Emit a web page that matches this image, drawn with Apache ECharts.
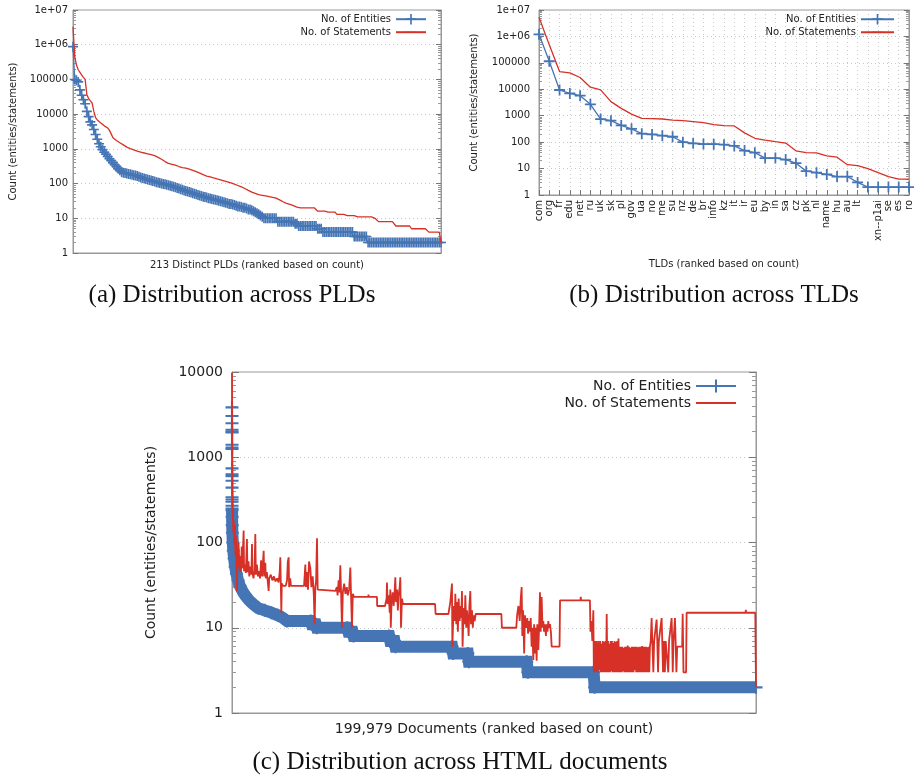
<!DOCTYPE html>
<html><head><meta charset="utf-8">
<script src="https://cdn.jsdelivr.net/npm/echarts/dist/echarts.min.js"></script>
<style>html,body{margin:0;padding:0;background:#fff}#c{width:914px;height:777px}</style>
</head><body><div id="c"></div>
<script>
// ---------- (a) PLDs: 213 ranked PLDs ----------
const pldEntities = [
 880000,100000,95000,85000,50000,35000,26000,20000,12000,8500,
 6000,4900,3600,2600,1900,1400,1150,950,800,700,
 600,520,460,400,350,310,270,240,215,205,
 200,195,190,185,180,175,170,165,158,150,
 145,140,135,130,126,122,118,114,110,107,
 104,101,98,95,93,90,87,84,81,78,
 75,72,69,66,63,61,59,57,55,53,
 51,49,47,45,44,42,41,40,38,37,
 36,35,34,33,32,31,30,29,28,27,
 26,26,25,24,23,22,22,21,20,20,
 19,18,18,17,16,15,14,13,12,11,
 10,10,10,10,10,10,10,10,
 8,8,8,8,8,8,8,8,8,8,
 7,7,
 6,6,6,6,6,6,6,6,6,6,6,
 5,5,5,
 4,4,4,4,4,4,4,4,4,4,4,4,4,4,4,4,4,4,
 3,3,3,3,3,3,3,3,
 2,2,2,2,2,2,2,2,2,2,2,2,2,2,2,2,2,2,2,2,2,2,2,2,2,2,2,2,2,2,2,2,2,2,2,2,2,2,2,2,2,2,2
];
const pldStatements = [
 3300000,450000,260000,190000,160000,135000,115000,100000,36000,28000,
 24000,21000,12000,8000,6800,6000,5600,5000,4600,4300,
 4000,3400,2700,2100,1900,1750,1600,1500,1400,1300,
 1200,1120,1070,1020,980,940,900,860,830,800,
 780,760,740,720,700,680,660,640,610,570,
 530,500,470,430,400,380,370,360,350,340,
 320,310,300,290,285,280,270,260,250,240,
 230,220,210,200,190,180,172,165,160,155,
 150,145,140,136,132,128,124,120,116,112,
 108,104,100,96,92,88,84,80,76,72,
 68,64,60,57,54,52,50,48,47,46,
 45,44,43,42,41,40,39,38,36,34,
 32,30,28,27,26,25,24,23,22,21,
 20,20,20,20,20,20,20,20,20,20,20,
 16,16,16,16,16,15,15,15,15,15,15,
 13,13,13,13,13,12,12,12,12,12,12,
 11,11,11,11,11,11,11,11,11,11,11,
 10,10,
 8,8,8,8,8,8,8,8,8,8,
 6,6,6,6,6,6,6,6,6,
 5,5,5,5,5,5,5,5,5,5,
 4,4,4,4,4,4,4,
 2
];

// ---------- (b) TLDs ----------
const tldNames = ['com','org','fr','edu','net','ru','uk','sk','pl','gov','ua','no','me','su','nz','de','br','info','kz','it','ir','eu','by','in','sa','cz','pk','nl','name','hu','au','lt','','xn--p1ai','se','es','ro'];
const tldEntities = [1200000,115000,9400,7000,5700,2700,750,650,430,320,210,195,175,160,100,90,85,84,80,72,48,40,25,25,22,16,8,7,6,5,5,3,2,2,2,2,2];
const tldStatements = [5300000,480000,47000,42000,28000,12000,9500,3400,1900,1150,800,780,750,680,650,600,550,460,420,410,225,140,120,105,92,47,40,39,30,27,14,13,10,7,5,4,4];

// ---------- (c) HTML documents: 199,979 ranked documents ----------
const htmlDocCount = 199979;
const htmlEntityPeakRanks = [1,2,3,4,5,6,7,8,9,10,11,12,13,14,15,16,17,18,19];
const htmlEntityPeakValues = [3850,3050,2500,2100,2000,1950,1400,1300,1250,740,630,600,530,440,340,320,300,270,250];
const htmlEntityBand = [
 [20,240],[40,200],[80,160],[150,130],[300,100],[500,80],[800,65],[1200,52],[1700,43],[2300,36],
 [3000,31],[4000,27],[5000,24],[6500,21],[8000,19],[10000,17],[12500,16],[15000,15],[17500,14],[19500,13],
 [21000,12],[30000,12],[30400,11],[32000,11],[32400,10],[44000,10],[44400,9],[46000,9],[46400,8],[60000,8],
 [60400,7],[62000,7],[62400,6],[84000,6],[84400,5],[90000,5],[90400,4],[112500,4],[112900,3],[138000,3],
 [138400,2],[199979,2]
];
const htmlStmtHead = [
 [1,9800],[60,2500],[150,600],[300,220],[500,130],[700,180],[900,95],[1100,160],[1300,70],[1500,120],[1700,60],[1900,27],[2100,85],[2300,55],[2500,100],[2700,50],[2900,70],[3100,45],[3300,65],[3500,48],[3700,90],[3900,50],
 [4100,48],[4450,138],[4600,46],[5000,55],[5300,44],[5700,110],[5900,45],[6300,60],[6600,40],[7000,52],[7400,42],[7630,96],[7800,44],[8200,38],[8600,48],[8900,126],[9100,42],[9500,55],[9900,40],[10300,46],[10700,38],[11100,62],[11500,40],[12080,80],[12300,40],[12720,58],[12900,38],[13300,45],[13990,27],[14200,38],[14800,42],[15400,36],[16000,40],[16600,35],[17200,38],[17800,34],[18200,45],[18440,67],[18600,36],[18830,15],[19000,33]
];
const htmlStmtMid = [
 [19500,31],[20500,31],[21000,36],[21300,60],[21624,67],[21800,30],[22200,38],[22500,31],[27500,31],[27984,55],[28200,30],[28600,45],[29000,28],[29400,60],[29900,50],[30300,30],[30800,40],[31200,25],[31546,11],[31800,30],[32100,35],[32436,112],[32700,28],[33000,27],[39500,27],[40000,30],[40300,24],[40700,36],[41000,26],[41340,54],[41600,28],[41976,10],[42300,26],[42800,33],[43300,25],[43800,30],[44200,24],[44700,28],[45156,51],[45400,26],[45792,10],[46100,25],[46600,23],[52000,23],[52100,24.5],[52200,23],[55332,23],[55400,18],[58400,18],
 [58600,18],[59000,22],[59148,34],[59400,19],[59800,24],[60200,15],[60420,28],[60600,10],[60900,20],[61300,26],[61692,18],[62000,24],[62328,39],[62600,20],[63000,28],[63300,16],[63600,24],[64000,30],[64236,39],[64500,10],[64872,22],[65200,19],[72000,19],[72100,20],[72200,19],[77500,19],[77700,14.5],[82600,14.5],
 [82800,15],[83316,20],[83952,33],[84100,6],[84588,18],[85000,12],[85224,25],[85600,11],[85860,20],[86200,9],[86496,22],[86900,12],[87132,18],[87500,13],[87768,27],[88000,6],[88404,17],[88800,11],[89040,24],[89400,10],[89676,16],[90000,12],[90312,8],[90600,18],[90948,27],[91200,11],[91584,16],[91900,10],[92220,14],[92600,12],[93000,14.5],[98000,14.5],[98200,14],[98400,15],[102800,14.5],[103000,10],[108500,10],
 [108800,14],[109300,18],[109800,12],[110200,22],[110540,30],[110800,8],[111100,16],[111500,5],[111800,14],[112200,10]
];
const htmlStmtTail = [
 [112445,11],[112700,13],[113000,8.5],[113300,12],[113717,9],[114000,13],[114353,6],[114600,10],[114989,4.2],[115300,11],[115625,5],[115900,10],[116261,4.1],[116500,11],[116897,5.5],[117200,10],[117533,26],[117800,9],[118169,23],[118500,10],[118805,12],[119100,9],[119441,11],[119800,8],[120077,11],[120400,9],[120713,12],[121000,10],[121349,11],[121700,9],[122000,6],[125000,6],[125200,21],[133000,21],[133100,23],[133200,21],[136600,21],[136800,9],[137200,12],[137500,7],[137900,16],[138100,3],[138300,7],
 [138500,7],[138750,3],[139000,7],[139250,7],[139500,3],[139750,7],[140000,7],[140250,3.2],[140500,7],[140750,3],[141000,6.5],[141250,3],[141500,7],[141750,3],[142000,6.8],[142250,3],[142500,7],[142750,3],[143000,14.5],[143250,3],[143500,7],[143750,3],[144000,6.5],[144250,3],[144500,7],[144750,3.1],[145000,7],[145250,3],[145500,6.6],[145750,3],[146000,7],[146250,3],[146500,6.8],[146750,3],[147000,7],[147250,3],[147500,7.5],[147750,3],[148000,6],
 [148250,3],[148500,6],[148750,3],[149000,6],[149250,3.1],[149500,5.8],[149750,3],[150000,6],[150250,3],[150500,6],[150750,3],[151000,6.2],[151250,3],[151500,6],[151750,3],[152000,5.8],[152250,3],[152500,6],[152750,3],[153000,6],[153250,3],[153500,6],[153750,3.2],[154000,6],[154250,3],[154500,6],[154750,3],[155000,5.9],[155250,3],[155500,6],[155750,3],[156000,6],[156250,3],[156500,6.1],[156750,3],[157000,6],[157250,3],[157500,6],[157750,3],[158000,6],[158250,3],[158500,5.9],[158750,3],[159000,6],[159250,3],[159500,6],
 [159800,7],[160145,13],[160400,7],[160800,3],[161100,7],[161500,7],[162053,12.5],[162300,7],[162600,3],[162900,7],[163300,7],[163961,13],[164200,7],[164500,3],[164800,7],[165200,3],[165500,7],[166000,7],[166500,3],[166800,7],[167400,7],[167777,13],[168000,7],[168200,3],[168500,7],[169049,13],[169300,7],[169600,3],[169900,6],
 [170200,6],[171800,6],[172000,14.6],[172300,3],[173300,3],[173500,15],[180000,15],[180100,14.4],[180200,15],[196000,15],[196100,16.2],[196200,15],[199700,15],[199979,2]
];

// ---------- styling ----------
const BLUE = '#4575b4', RED = '#d73027';
const SANS = 'DejaVu Sans', SERIF = 'Liberation Serif';
const AXIS_C = '#999', TEXT_C = '#222', GRID_C = '#c8c8c8';
const PLUS = 'path://M0,4.2H10V5.8H0Z M4.2,0H5.8V10H4.2Z';
const DASH = 'path://M0,4.5H10V5.5H0Z M0,0H0.01V0.01H0Z M0,10H0.01V10.01H0Z';

function logLabel(v) {
  const e = Math.round(Math.log10(v));
  return e >= 6 ? '1e+0' + e : String(Math.round(Math.pow(10, e)));
}
function tickStyle(fs) {
  return {
    axisTick: { show: true, inside: true, length: fs > 12 ? 7 : 5, lineStyle: { color: '#777' } },
    minorTick: { show: true, splitNumber: 9, length: fs > 12 ? 4 : 3, lineStyle: { color: '#999' } }
  };
}
function yLeft(grid, max, split, fs, margin, name, gap) {
  return Object.assign({ type: 'log', gridIndex: grid, min: 1, max: max, splitNumber: split, position: 'left',
    axisLine: { show: true, lineStyle: { color: AXIS_C } },
    axisLabel: { formatter: logLabel, fontFamily: SANS, fontSize: fs, color: TEXT_C, margin: margin },
    splitLine: { show: true, lineStyle: { color: GRID_C, type: [1, 3] } },
    minorSplitLine: { show: false },
    name: name, nameLocation: 'middle', nameGap: gap, nameRotate: 90,
    nameTextStyle: { fontFamily: SANS, fontSize: fs, color: TEXT_C } }, tickStyle(fs));
}
function yRight(grid, max, split, fs) {
  return Object.assign({ type: 'log', gridIndex: grid, min: 1, max: max, splitNumber: split, position: 'right',
    axisLine: { show: true, lineStyle: { color: AXIS_C } },
    axisLabel: { show: false }, splitLine: { show: false }, minorSplitLine: { show: false } }, tickStyle(fs));
}
function legendItem(name, right, top, fs, w, h) {
  return { data: [name], orient: 'vertical', right: right, top: top, align: 'right', padding: 0,
    itemWidth: w, itemHeight: h, selectedMode: false,
    textStyle: { fontFamily: SANS, fontSize: fs, color: TEXT_C } };
}
const lineBase = { type: 'line', animation: false, clip: false };

const option = {
  animation: false,
  backgroundColor: '#fff',
  grid: [
    { left: 73, top: 10, width: 368, height: 243, show: true, borderColor: AXIS_C, borderWidth: 1 },
    { left: 539, top: 10, width: 372, height: 185, show: true, borderColor: AXIS_C, borderWidth: 1 },
    { left: 232, top: 372, width: 524, height: 341, show: true, borderColor: AXIS_C, borderWidth: 1 }
  ],
  xAxis: [
    { type: 'value', gridIndex: 0, min: 1, max: pldEntities.length,
      axisLine: { show: true, lineStyle: { color: AXIS_C } }, axisTick: { show: false }, axisLabel: { show: false }, splitLine: { show: false },
      name: pldEntities.length + ' Distinct PLDs (ranked based on count)', nameLocation: 'middle', nameGap: 7,
      nameTextStyle: { fontFamily: SANS, fontSize: 10, color: TEXT_C } },
    { type: 'category', gridIndex: 1, data: tldNames, boundaryGap: false,
      axisLine: { show: true, lineStyle: { color: AXIS_C } },
      axisTick: { show: true, inside: true, length: 5, interval: 0, lineStyle: { color: '#777' } },
      axisLabel: { interval: 0, rotate: 90, fontFamily: SANS, fontSize: 10, color: TEXT_C, margin: 5 },
      splitLine: { show: true, interval: 0, lineStyle: { color: GRID_C, type: [1, 3] } },
      name: 'TLDs (ranked based on count)', nameLocation: 'middle', nameGap: 64,
      nameTextStyle: { fontFamily: SANS, fontSize: 10, color: TEXT_C } },
    { type: 'value', gridIndex: 2, min: 0, max: htmlDocCount,
      axisLine: { show: true, lineStyle: { color: AXIS_C } }, axisTick: { show: false }, axisLabel: { show: false }, splitLine: { show: false },
      name: '199,979 Documents (ranked based on count)', nameLocation: 'middle', nameGap: 9,
      nameTextStyle: { fontFamily: SANS, fontSize: 14, color: TEXT_C } }
  ],
  yAxis: [
    yLeft(0, 1e7, 7, 10, 5, 'Count (entities/statements)', 55),
    yRight(0, 1e7, 7, 10),
    yLeft(1, 1e7, 7, 10, 9, 'Count (entities/statements)', 60),
    yRight(1, 1e7, 7, 10),
    yLeft(2, 1e4, 4, 14, 9, 'Count (entities/statements)', 74),
    yRight(2, 1e4, 4, 14)
  ],
  legend: [
    legendItem('No. of Entities', 487, 14, 10, 30, 13),
    legendItem('No. of Statements', 487, 27, 10, 30, 13),
    legendItem('No. of Entities', 19, 14, 10, 33, 13),
    legendItem('No. of Statements', 19, 27, 10, 33, 13),
    legendItem('No. of Entities', 177, 379, 14, 40, 16),
    legendItem('No. of Statements', 177, 396, 14, 40, 16)
  ],
  series: [
    Object.assign({}, lineBase, { name: 'No. of Entities', xAxisIndex: 0, yAxisIndex: 0,
      data: pldEntities.map((v, i) => [i + 1, v]), symbol: PLUS, symbolSize: 10,
      itemStyle: { color: BLUE }, lineStyle: { color: BLUE, width: 1.3 }, z: 2 }),
    Object.assign({}, lineBase, { name: 'No. of Statements', xAxisIndex: 0, yAxisIndex: 0,
      data: pldStatements.map((v, i) => [i + 1, v]), symbol: DASH, showSymbol: false,
      itemStyle: { color: RED }, lineStyle: { color: RED, width: 1.3 }, z: 3 }),
    Object.assign({}, lineBase, { name: 'No. of Entities', xAxisIndex: 1, yAxisIndex: 2,
      data: tldEntities, symbol: PLUS, symbolSize: 11,
      itemStyle: { color: BLUE }, lineStyle: { color: BLUE, width: 1.3 }, z: 2 }),
    Object.assign({}, lineBase, { name: 'No. of Statements', xAxisIndex: 1, yAxisIndex: 2,
      data: tldStatements, symbol: DASH, showSymbol: false,
      itemStyle: { color: RED }, lineStyle: { color: RED, width: 1.3 }, z: 3 }),
    Object.assign({}, lineBase, { name: 'No. of Entities', xAxisIndex: 2, yAxisIndex: 4,
      data: htmlEntityPeakRanks.map((r, i) => [r, htmlEntityPeakValues[i]]), symbol: PLUS, symbolSize: 13,
      itemStyle: { color: BLUE }, lineStyle: { color: BLUE, width: 1.5 }, z: 2 }),
    Object.assign({}, lineBase, { name: 'No. of Entities', xAxisIndex: 2, yAxisIndex: 4,
      data: htmlEntityBand, symbol: PLUS, symbolSize: 13,
      itemStyle: { color: BLUE }, lineStyle: { color: BLUE, width: 12, join: 'miter' }, z: 2 }),
    Object.assign({}, lineBase, { name: 'No. of Statements', xAxisIndex: 2, yAxisIndex: 4,
      data: htmlStmtHead.concat(htmlStmtMid, htmlStmtTail), symbol: DASH, showSymbol: false,
      itemStyle: { color: RED }, lineStyle: { color: RED, width: 1.8 }, z: 3 })
  ],
  graphic: [
    { type: 'text', x: 232, y: 295, style: { text: '(a) Distribution across PLDs', fontFamily: SERIF, fontSize: 25, fill: '#111', align: 'center', verticalAlign: 'middle' } },
    { type: 'text', x: 714, y: 295, style: { text: '(b) Distribution across TLDs', fontFamily: SERIF, fontSize: 25, fill: '#111', align: 'center', verticalAlign: 'middle' } },
    { type: 'text', x: 460, y: 762, style: { text: '(c) Distribution across HTML documents', fontFamily: SERIF, fontSize: 25, fill: '#111', align: 'center', verticalAlign: 'middle' } }
  ]
};
const chart = echarts.init(document.getElementById('c'), null, { renderer: 'canvas' });
chart.setOption(option);
</script></body></html>
